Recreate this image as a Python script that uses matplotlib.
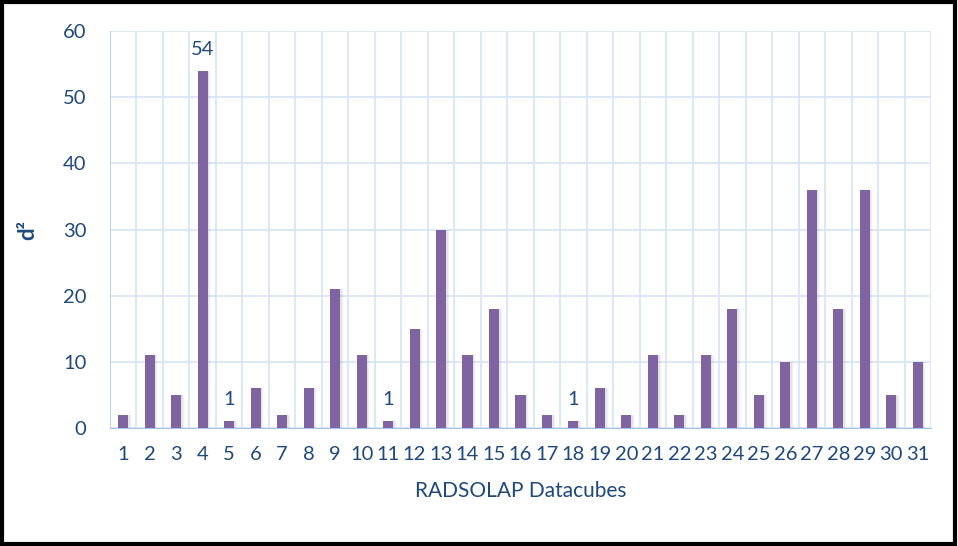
import matplotlib
matplotlib.use("Agg")
from matplotlib import pyplot as plt
from matplotlib.patches import Rectangle
import numpy as np

cubes = list(range(1, 32))
d2 = [2, 11, 5, 54, 1, 6, 2, 6, 21, 11, 1, 15, 30, 11, 18, 5, 2, 1, 6, 2,
      11, 2, 11, 18, 5, 10, 36, 18, 36, 5, 10]
labelled = [4, 5, 11, 18]

navy = "#1F497D"
plt.rcParams['font.family'] = ['Lato', 'DejaVu Sans']

fig = plt.figure(figsize=(9.58, 5.46), dpi=100)
ax = fig.add_axes([0.1148, 0.2161, 0.857, 0.727])

x = np.array(cubes)
w = 0.38
# soft shadow behind each bar
for i, a in enumerate([0.10, 0.07, 0.04]):
    off = 0.05 + 0.04 * i
    ax.bar(x + off, d2, width=w + 0.02, color="gray", alpha=a, zorder=2,
           linewidth=0)
ax.bar(x, d2, width=w, color="#8064A2", zorder=3, linewidth=0)

for c in labelled:
    v = d2[c - 1]
    ax.text(c, v + 2.0, str(v), ha="center", va="bottom", color=navy,
            fontsize=14.5)

ax.set_xlim(0.5, 31.5)
ax.set_ylim(0, 60)
ax.set_yticks(range(0, 61, 10))
ax.set_xticks(cubes)
ax.set_xticks(np.arange(0.5, 32, 1), minor=True)
ax.grid(axis="y", which="major", color="#D6E4F5", linewidth=1.2, zorder=0)
ax.grid(axis="x", which="minor", color="#D6E4F5", linewidth=1.2, zorder=0)
ax.tick_params(which="both", length=0)
ax.tick_params(axis="x", pad=13, labelsize=14.5, labelcolor=navy)
ax.tick_params(axis="y", pad=17, labelsize=14.5, labelcolor=navy)
for s in ["top", "right"]:
    ax.spines[s].set_visible(False)
ax.spines["left"].set_color("#BDD3EE")
ax.spines["bottom"].set_color("#A7C4EA")
ax.set_xlabel("RADSOLAP Datacubes", color=navy, fontsize=15, labelpad=13)
ax.set_ylabel("d²", color=navy, fontsize=16, fontweight="bold", labelpad=18)

# outer frame
fig.patches.append(Rectangle((0.002, 0.004), 0.995, 0.992,
                             transform=fig.transFigure, fill=False,
                             edgecolor="black", linewidth=3))

fig.savefig("out.png", dpi=100)
